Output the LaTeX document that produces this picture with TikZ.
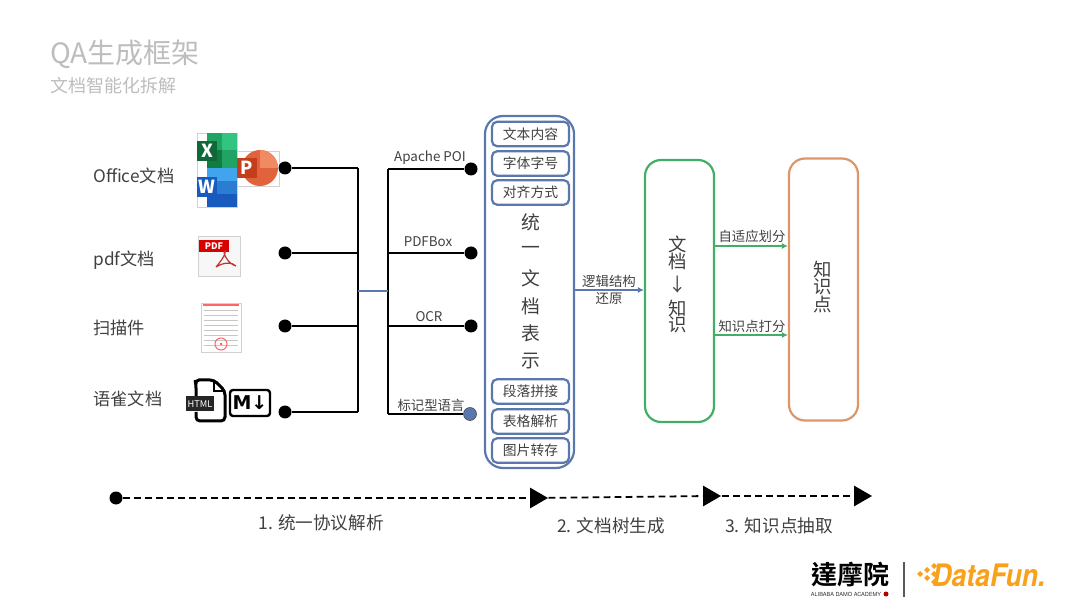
\documentclass[tikz,border=0pt]{standalone}
\usepackage{fontspec}
\setmainfont{Noto Sans CJK SC}
\newfontfamily\logofont{Noto Sans CJK TC}[BoldFont={Noto Sans CJK TC Bold}]
\newfontfamily\funfont{TeX Gyre Heros}
\newfontfamily\iconfont{DejaVu Sans}
\usetikzlibrary{shapes.geometric,arrows.meta}

\definecolor{inkgray}{HTML}{404040}
\definecolor{titlegray}{HTML}{BDBDBD}
\definecolor{boxblue}{HTML}{5A78AE}
\definecolor{boxgreen}{HTML}{45AE66}
\definecolor{boxorange}{HTML}{DE9568}
\definecolor{funorange}{HTML}{F9A11B}
\definecolor{xlslight}{HTML}{33C481}
\definecolor{xlsmid}{HTML}{21A366}
\definecolor{xlsdark}{HTML}{107C41}
\definecolor{doclight}{HTML}{41A5EE}
\definecolor{docmid}{HTML}{2B7CD3}
\definecolor{docdark}{HTML}{185ABD}
\definecolor{pptlight}{HTML}{F08A63}
\definecolor{pptmid}{HTML}{E0633C}
\definecolor{pptdark}{HTML}{C43E1C}

\tikzset{
          dot/.style = {fill = #1, circle, minimum width = 6.5pt, inner sep = 0mm},
          wire/.style = {draw = #1, line width = 1.1pt},
          label/.style = {text = inkgray, font = \fontsize{#1}{#1}\selectfont, anchor = center, inner sep = 0mm},
          partbox/.style = {draw = boxblue, line width = 1.1pt, rounded corners = 2.5pt, minimum width = 38.5pt, minimum height = 12.2pt, inner sep = 0mm, text = inkgray, font = \fontsize{6.9}{6.9}\selectfont},
          bigbox/.style = {draw = #1, line width = 1.1pt, rounded corners = 8pt, minimum width = 34.5pt, minimum height = 131pt, inner sep = 0mm},
          flow/.style = {draw = #1, line width = 1.1pt, -{Latex[length=3pt,width=3pt]}},
          stage/.style = {fill = black, isosceles triangle, isosceles triangle apex angle = 60, minimum width = 10pt, minimum height = 9pt, inner sep = 0mm},
          timeline/.style = {draw = black, line width = 0.9pt, dash pattern = on 3.4pt off 2.1pt},
          frame/.style = {draw = black!18, line width = 0.3pt},
          tile/.style = {fill = #1, minimum width = 10pt, minimum height = 10pt, inner sep = 0mm, text = white, font = \bfseries\fontsize{9}{9}\selectfont}
        }

\begin{document}
\begin{tikzpicture}[x=0.5pt,y=-0.5pt]
          \useasboundingbox (0,0) rectangle (1080,608);

          \node[label=14, text=titlegray, anchor=west] (title) at (50,54) {QA生成框架};
          \node[label=9, text=titlegray, anchor=west] (subtitle) at (50,86) {文档智能化拆解};

          % left column
          \foreach \m/\t/\yi in {office/Office文档/176,pdf/pdf文档/260,scan/扫描件/328,yuque/语雀文档/399}{
            \node[label=8.6, anchor=west] (\m) at (93,\yi) {\t};
          }

          % office icons
          \draw[frame] (197,133) rectangle (237,207);
          \draw[frame] (237,151) rectangle (279,186);
          \fill[xlsmid] (207,133) rectangle (237,168);
          \fill[xlslight] (222,133) rectangle (237,150);
          \fill[xlsdark] (207,150) rectangle (222,168);
          \fill[doclight] (207,168) rectangle (237,181);
          \fill[docmid] (207,181) rectangle (237,194);
          \fill[docdark] (207,194) rectangle (237,207);
          \fill[pptmid] (260,168) circle (18);
          \fill[pptlight] (260,150) arc (-90:0:18) -- (260,168) -- cycle;
          \node[tile=xlsdark!85!black] (xlsicon) at (207,151) {X};
          \node[tile=docdark] (docicon) at (207,187) {W};
          \node[tile=pptdark] (ppticon) at (247,168) {P};

          % pdf icon
          \draw[frame, fill=black!3] (198,236) rectangle (240,276);
          \node[fill=red!85!black, minimum width=15pt, minimum height=6pt, inner sep=0mm, text=white, font=\bfseries\fontsize{4.5}{4.5}\selectfont] (pdficon) at (214,246) {PDF};
          \draw[red!70!black!80!white, line width=0.6pt] (216,267) .. controls (224,258) and (226,252) .. (225,251) .. controls (222,252) and (228,264) .. (236,266) .. controls (232,262) and (224,262) .. (216,267);

          % scan icon
          \draw[frame] (201,303) rectangle (241,352);
          \draw[red!60, line width=0.8pt] (203,305) -- (239,305);
          \foreach \yi in {310,315,320,325,330,335,340,345}{
            \draw[black!22, line width=0.35pt] (204,\yi) -- (238,\yi);
          }
          \draw[red!60, line width=0.5pt] (221,344) circle (6);
          \fill[red!60] (221,344) circle (1.5);

          % markup icons
          \draw[black, line width=1.5pt, rounded corners=2pt] (196,396) -- (196,384) -- (195,380) -- (214,380) -- (225,391) -- (225,421) -- (196,421) -- (196,412);
          \draw[black, line width=1.2pt] (214,380) -- (214,391) -- (225,391);
          \node[fill=black!85, text=white, minimum width=14pt, minimum height=7.5pt, inner sep=0mm, font=\fontsize{4.6}{4.6}\selectfont] (htmlicon) at (200,404) {HTML};
          \node[draw=black, line width=1.2pt, rounded corners=1.5pt, minimum width=20pt, minimum height=13pt, inner sep=0mm, font=\iconfont\bfseries\fontsize{9.5}{9.5}\selectfont] (mdicon) at (250,403) {M↓};

          % parser wires
          \coordinate (busl) at (358,291);
          \coordinate (busr) at (388,291);
          \foreach \m/\yi in {a/168,b/253,c/326,d/412}{
            \node[dot=black] (in\m) at (285,\yi){};
            \draw[wire=black] (in\m) -- (busl |- in\m);
          }
          \foreach \m/\yi in {a/169,b/253,c/326}{
            \node[dot=black] (out\m) at (471,\yi){};
            \draw[wire=black] (out\m) -- (busr |- out\m);
          }
          \node[dot=boxblue, draw=black!70, line width=0.3pt] (outd) at (470,414){};
          \draw[wire=black] (outd) -- (busr |- outd);
          \draw[wire=black] (busl |- ina) -- (busl |- ind);
          \draw[wire=black] (busr |- outa) -- (busr |- outd);
          \draw[wire=boxblue] (busl) -- (busr);

          \foreach \m/\t/\xi/\yi in {poi/Apache POI/430/158,box/PDFBox/428/242,ocr/OCR/429/317,mark/标记型语言/431/405}{
            \node[label=6.7] (\m) at (\xi,\yi) {\t};
          }

          % unified document box
          \node[bigbox=boxblue, minimum width=44.5pt, minimum height=176pt, rounded corners=9pt] (unified) at (529.5,292) {};
          \foreach \m/\t/\yi in {text/文本内容/134,font/字体字号/163.5,align/对齐方式/192.5,para/段落拼接/391.5,table/表格解析/421.5,image/图片转存/450.5}{
            \node[partbox] (\m) at (530.5,\yi) {\t};
          }
          \foreach \m/\t/\yi in {u1/统/222,u2/一/250,u3/文/278,u4/档/306,u5/表/333,u6/示/361}{
            \node[label=9.4] (\m) at (530.5,\yi) {\t};
          }

          % document to knowledge
          \node[bigbox=boxgreen] (doc) at (679.5,291) {};
          \node[bigbox=boxorange] (know) at (823.5,289.5) {};
          \foreach \m/\t/\yi in {d1/文/244,d2/档/262,d3/↓/285,d4/知/308,d5/识/325}{
            \node[label=9.2] (\m) at (678,\yi) {\t};
          }
          \foreach \m/\t/\yi in {k1/知/269,k2/识/287,k3/点/305}{
            \node[label=9.2] (\m) at (823,\yi) {\t};
          }

          \draw[flow=boxblue] (unified.east |- 0,290) -- (doc.west |- 0,290);
          \draw[flow=boxgreen] (doc.east |- 0,246) -- (know.west |- 0,246);
          \draw[flow=boxgreen] (doc.east |- 0,335) -- (know.west |- 0,335);
          \node[label=6.7] (logic) at (609,281.5) {逻辑结构};
          \node[label=6.7] (restore) at (609,299) {还原};
          \node[label=6.7] (split) at (752,236) {自适应划分};
          \node[label=6.7] (score) at (752,326) {知识点打分};

          % timeline
          \node[dot=black] (start) at (116,498){};
          \node[stage] (s1) at (536,498){};
          \node[stage] (s2) at (709,496){};
          \node[stage] (s3) at (860,496){};
          \draw[timeline] (start) -- (s1);
          \draw[timeline] (s1) -- (s2);
          \draw[timeline] (s2) -- (s3);
          \node[label=8.8] (t1) at (321,523) {1. 统一协议解析};
          \node[label=8.8] (t2) at (611,526) {2. 文档树生成};
          \node[label=8.8] (t3) at (779,526) {3. 知识点抽取};

          % logos
          \node[inner sep=0mm, text=black, font=\logofont\bfseries\fontsize{13}{13}\selectfont] (damo) at (850,575) {達摩院};
          \node[inner sep=0mm, text=black!80, font=\funfont\fontsize{2.8}{2.8}\selectfont] (damoen) at (846,594) {ALIBABA DAMO ACADEMY};
          \fill[red!70!black] (886,594) circle (2.5);
          \draw[black!65, line width=0.8pt] (904,562) -- (904,597);
          \node[inner sep=0mm, anchor=west, xscale=0.86, text=funorange, font=\funfont\bfseries\itshape\fontsize{15.5}{15.5}\selectfont] (fun) at (932,575) {DataFun.};
          \foreach \xi/\yi in {917/574,924/570,924/578,931/574,931/566,931/582}{
            \fill[funorange] (\xi,\yi) -- +(3,-3) -- +(6,0) -- +(3,3) -- cycle;
          }
        \end{tikzpicture}
\end{document}
